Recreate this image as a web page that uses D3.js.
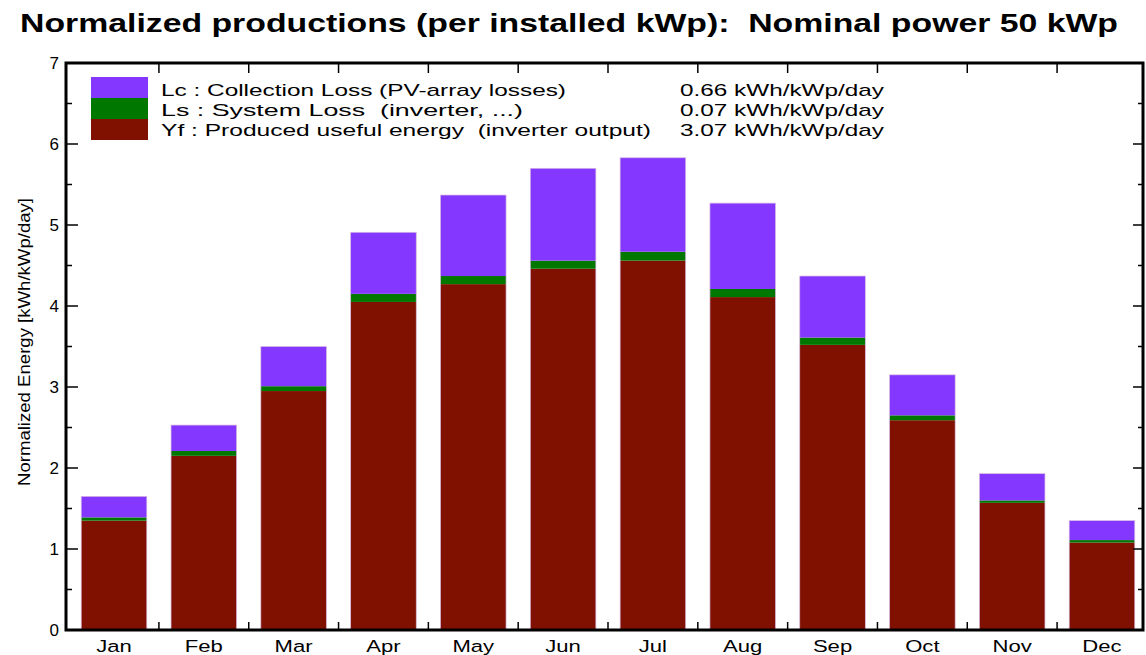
<!DOCTYPE html>
<html>
<head>
<meta charset="utf-8">
<script src="https://cdn.jsdelivr.net/npm/d3@7"></script>
<style>
  body { margin: 0; background: #fff; }
  svg text { font-family: "Liberation Sans", Arial, sans-serif; fill: #000; white-space: pre; }
</style>
</head>
<body>
<svg id="chart" width="1146" height="655"></svg>
<script>
// --- Data ---
const months = ["Jan", "Feb", "Mar", "Apr", "May", "Jun", "Jul", "Aug", "Sep", "Oct", "Nov", "Dec"];
const yfValues = [1.35, 2.15, 2.95, 4.05, 4.27, 4.46, 4.56, 4.11, 3.52, 2.59, 1.57, 1.08];
const lsValues = [0.04, 0.06, 0.06, 0.10, 0.10, 0.10, 0.11, 0.10, 0.09, 0.06, 0.03, 0.03];
const lcValues = [0.26, 0.32, 0.49, 0.76, 1.00, 1.14, 1.16, 1.06, 0.76, 0.50, 0.33, 0.24];
const yTicks = [0, 1, 2, 3, 4, 5, 6, 7];
const legendLabels = [
    "Lc : Collection Loss (PV-array losses)",
    "Ls : System Loss  (inverter, ...)",
    "Yf : Produced useful energy  (inverter output)"
];
const legendValues = ["0.66 kWh/kWp/day", "0.07 kWh/kWp/day", "3.07 kWh/kWp/day"];

const colors = { yf: "#801000", ls: "#007800", lc: "#8438ff" };

// --- Layout ---
const margin = { top: 63, right: 3, bottom: 25, left: 66 };
const width = 1146, height = 655;
const innerW = width - margin.left - margin.right;
const innerH = height - margin.top - margin.bottom;

const svg = d3.select('#chart');

// title
svg.append('text')
    .attr('x', 20).attr('y', 32)
    .attr('font-size', 25).attr('font-weight', 'bold')
    .attr('textLength', 1098).attr('lengthAdjust', 'spacingAndGlyphs')
    .text("Normalized productions (per installed kWp):  Nominal power 50 kWp");

const g = svg.append('g').attr('transform', `translate(${margin.left},${margin.top})`);

// bands are slightly offset to the right inside the frame, like the original
const x = d3.scaleBand().domain(months).range([4, innerW + 3]).paddingInner(0.27).paddingOuter(0.125);
const y = d3.scaleLinear().domain([0, 7]).range([innerH, 0]);

// stacked data
const rows = months.map((m, i) => ({ month: m, yf: yfValues[i], ls: lsValues[i], lc: lcValues[i] }));
const stack = d3.stack().keys(["yf", "ls", "lc"])(rows);

const layers = g.selectAll('.layer')
    .data(stack)
    .enter().append('g')
    .attr('fill', d => colors[d.key]);

layers.selectAll('rect')
    .data(d => d)
    .enter().append('rect')
    .attr('x', d => x(d.data.month))
    .attr('width', x.bandwidth())
    .attr('y', d => y(d[1]))
    .attr('height', d => y(d[0]) - y(d[1]));

// faint light outline around each whole bar
g.selectAll('.outline')
    .data(stack[stack.length - 1])
    .enter().append('rect')
    .attr('x', d => x(d.data.month))
    .attr('width', x.bandwidth())
    .attr('y', d => y(d[1]))
    .attr('height', d => y(0) - y(d[1]))
    .attr('fill', 'none')
    .attr('stroke', '#d8b8e0').attr('stroke-width', 0.7);

// frame
g.append('rect')
    .attr('x', 0).attr('y', 0).attr('width', innerW).attr('height', innerH)
    .attr('fill', 'none').attr('stroke', '#000').attr('stroke-width', 3);

// y ticks (inside, left and right)
const halfTicks = d3.range(0.5, 7, 1);
g.selectAll('.ytl').data(yTicks.slice(1, -1)).enter().append('line')
    .attr('x1', 0).attr('x2', 12).attr('y1', d => y(d)).attr('y2', d => y(d))
    .attr('stroke', '#000').attr('stroke-width', 1.5);
g.selectAll('.ytlm').data(halfTicks).enter().append('line')
    .attr('x1', 0).attr('x2', 6).attr('y1', d => y(d)).attr('y2', d => y(d))
    .attr('stroke', '#000').attr('stroke-width', 1.5);
g.selectAll('.ytr').data(yTicks.slice(1, -1)).enter().append('line')
    .attr('x1', innerW).attr('x2', innerW - 10).attr('y1', d => y(d)).attr('y2', d => y(d))
    .attr('stroke', '#000').attr('stroke-width', 1.5);
g.selectAll('.ytrm').data(halfTicks).enter().append('line')
    .attr('x1', innerW).attr('x2', innerW - 5).attr('y1', d => y(d)).attr('y2', d => y(d))
    .attr('stroke', '#000').attr('stroke-width', 1.5);

g.selectAll('.ylab').data(yTicks).enter().append('text')
    .attr('x', -7).attr('y', d => y(d) + 6)
    .attr('text-anchor', 'end').attr('font-size', 17)
    .text(d => d);

// x ticks at band boundaries
const boundaries = months.slice(1).map(m => x(m) - x.step() * x.paddingInner() / 2);
g.selectAll('.xtt').data(boundaries).enter().append('line')
    .attr('x1', d => d).attr('x2', d => d).attr('y1', 0).attr('y2', 10)
    .attr('stroke', '#000').attr('stroke-width', 1.5);
g.selectAll('.xtb').data(boundaries).enter().append('line')
    .attr('x1', d => d).attr('x2', d => d).attr('y1', innerH).attr('y2', innerH - 8)
    .attr('stroke', '#000').attr('stroke-width', 1.5);

// month labels, stretched horizontally like the original
g.selectAll('.xlab').data(months).enter().append('text')
    .attr('transform', d => `translate(${x(d) + x.bandwidth() / 2},${innerH + 22}) scale(1.3,1)`)
    .attr('text-anchor', 'middle').attr('font-size', 17)
    .text(d => d);

// y axis title
svg.append('text')
    .attr('transform', 'translate(30,342) rotate(-90)')
    .attr('text-anchor', 'middle').attr('font-size', 17)
    .attr('textLength', 288).attr('lengthAdjust', 'spacingAndGlyphs')
    .text("Normalized Energy [kWh/kWp/day]");

// legend
const legendKeys = ["lc", "ls", "yf"];
const swatchY = [77, 98, 119];
const textLens = [405, 362, 490];
legendKeys.forEach((k, i) => {
    svg.append('rect')
        .attr('x', 91).attr('y', swatchY[i]).attr('width', 57).attr('height', 21)
        .attr('fill', colors[k]);
    svg.append('text')
        .attr('x', 161).attr('y', 96 + i * 20)
        .attr('font-size', 17)
        .attr('textLength', textLens[i]).attr('lengthAdjust', 'spacingAndGlyphs')
        .text(legendLabels[i]);
    svg.append('text')
        .attr('x', 680).attr('y', 96 + i * 20)
        .attr('font-size', 17)
        .attr('textLength', 204).attr('lengthAdjust', 'spacingAndGlyphs')
        .text(legendValues[i]);
});
</script>
</body>
</html>
